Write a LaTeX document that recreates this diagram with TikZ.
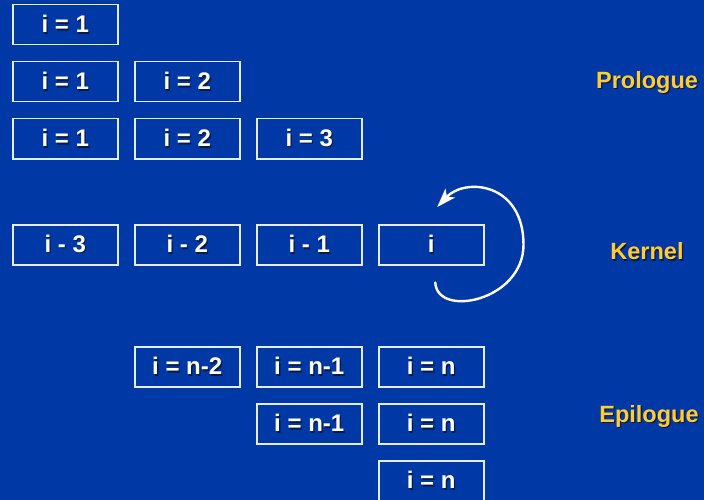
\documentclass[tikz,border=0pt]{standalone}
\usepackage{fontspec}
\setmainfont{Liberation Sans}
\usepackage{xcolor}
\usetikzlibrary{arrows.meta,positioning}
\definecolor{slide}{HTML}{0039A6}
\definecolor{frame}{HTML}{E6ECF5}
\definecolor{gold}{HTML}{FFCC33}
\definecolor{shade}{HTML}{0A1A40}
\newcommand{\shadowtext}[1]{\makebox[0pt][l]{\kern1.3pt\raisebox{-1.3pt}{\textcolor{shade}{#1}}}#1}
\tikzset{
  iter/.style={
    draw=frame, line width=1.5pt, fill=slide, text=white,
    minimum width=105pt, minimum height=40pt, inner sep=0pt,
    font=\fontsize{24}{28}\selectfont\bfseries
  },
  phase/.style={text=gold, font=\fontsize{23.5}{28}\selectfont\bfseries, inner sep=0pt},
  loop/.style={-{Stealth[length=19pt,width=13pt,inset=5pt]}, draw=white, line width=2.4pt, line cap=round}
}

\begin{document}
\begin{tikzpicture}[x=1pt, y=-1pt, node distance=15.5pt and 15.5pt]
  \useasboundingbox (0,0) rectangle (704,500);
  \fill[slide] (0,0) rectangle (704,500);

  % prologue
  \node[iter, anchor=north west] (proA1) at (12,4) {\shadowtext{i = 1}};
  \node[iter, below=of proA1] (proB1) {\shadowtext{i = 1}};
  \node[iter, right=of proB1] (proB2) {\shadowtext{i = 2}};
  \node[iter, below=of proB1] (proC1) {\shadowtext{i = 1}};
  \node[iter, right=of proC1] (proC2) {\shadowtext{i = 2}};
  \node[iter, right=of proC2] (proC3) {\shadowtext{i = 3}};

  % kernel
  \node[iter, below=64.5pt of proC1] (kerA) {\shadowtext{i - 3}};
  \node[iter, right=of kerA] (kerB) {\shadowtext{i - 2}};
  \node[iter, right=of kerB] (kerC) {\shadowtext{i - 1}};
  \node[iter, right=of kerC] (kerD) {\shadowtext{i}};

  % epilogue
  \node[iter, below=80.5pt of kerB] (epiA2) {\shadowtext{i = n-2}};
  \node[iter, right=of epiA2] (epiA3) {\shadowtext{i = n-1}};
  \node[iter, right=of epiA3] (epiA4) {\shadowtext{i = n}};
  \node[iter, below=of epiA3] (epiB3) {\shadowtext{i = n-1}};
  \node[iter, right=of epiB3] (epiB4) {\shadowtext{i = n}};
  \node[iter, below=of epiB4] (epiC4) {\shadowtext{i = n}};

  \node[phase] (prologue) at (647,83) {\shadowtext{Prologue}};
  \node[phase] (kernel) at (647,252) {\shadowtext{Kernel}};
  \node[phase] (epilogue) at (649,417) {\shadowtext{Epilogue}};

  \coordinate (loopStart) at ([xshift=4pt,yshift=-17pt]kerD.south);
  \coordinate (loopEnd) at ([xshift=6pt,yshift=17pt]kerD.north);
  \draw[loop] (loopStart) .. controls +(2,36) and +(0,56) .. ([xshift=39pt]kerD.east)
    .. controls +(0,-62) and +(28,-30) .. (loopEnd);
\end{tikzpicture}
\end{document}
